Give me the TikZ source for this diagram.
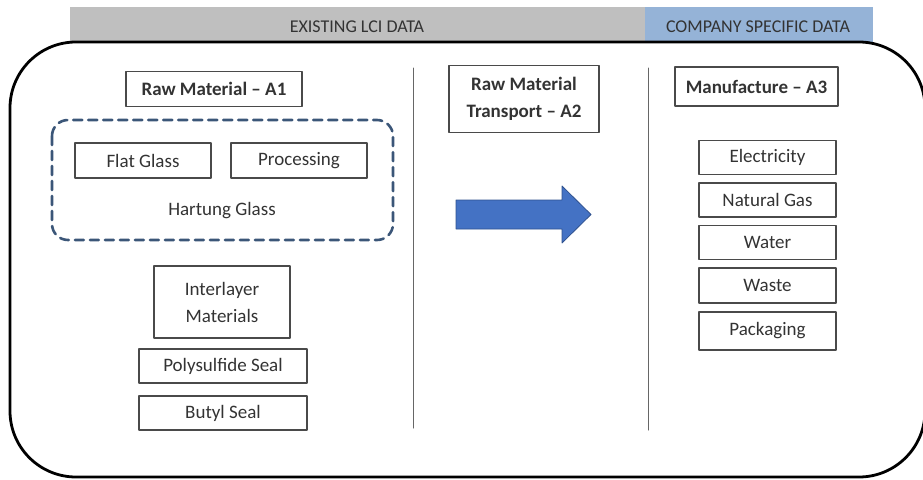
\documentclass[tikz,border=0pt]{standalone}
\usepackage{fontspec}
\setmainfont{Carlito}
\usetikzlibrary{calc}
\definecolor{lcigray}{HTML}{BFBFBF}
\definecolor{companyblue}{HTML}{95B3D7}
\definecolor{groupcolor}{HTML}{3B5678}
\definecolor{arrowfill}{HTML}{4472C4}
\definecolor{arrowedge}{HTML}{2F528F}
\definecolor{boxedge}{HTML}{4A4A4A}
\definecolor{boxtext}{HTML}{333333}

\begin{document}
\begin{tikzpicture}[x=1pt,y=-1pt,line cap=round,line join=round,
  stage/.style={draw=boxedge,line width=1.4pt,inner sep=0pt,text=boxtext,align=center,
    font=\fontsize{19}{27}\selectfont\bfseries},
  item/.style={draw=boxedge,line width=1.4pt,inner sep=0pt,text=boxtext,align=center,
    font=\fontsize{19}{27}\selectfont}]
  \clip (0,0) rectangle (923,479);
  % data source bars
  \fill[lcigray] (70,7) rectangle (645,42);
  \fill[companyblue] (645,7) rectangle (873,42);
  \node[text=boxtext,font=\fontsize{18}{20}\selectfont] (lcihead) at (357,27) {EXISTING LCI DATA};
  \node[text=boxtext,font=\fontsize{18}{20}\selectfont] (companyhead) at (758,27) {COMPANY SPECIFIC DATA};
  % outer frame
  \draw[black,line width=2.8pt,rounded corners=66] (10,42) rectangle (925,477);
  % dividers
  \draw[gray!80!black,line width=1pt] (413,68)--(413,428);
  \draw[gray!80!black,line width=1pt] (648,68)--(648,430);
  % stages
  \node[stage,minimum width=176,minimum height=35] (rawA1) at (214,89) {Raw Material -- A1};
  \node[stage,minimum width=150,minimum height=67] (transA2) at (524,99) {Raw Material\\Transport -- A2};
  \node[stage,minimum width=163,minimum height=39] (manuA3) at (756.5,86.5) {Manufacture -- A3};
  % hartung glass group
  \draw[groupcolor,line width=2.6pt,dash pattern=on 9pt off 6pt,rounded corners=16] (52,120) rectangle (393,240);
  \node[item,minimum width=136,minimum height=35] (flatglass) at (143,160.5) {Flat Glass};
  \node[item,minimum width=136,minimum height=35] (processing) at (299,160.5) {Processing};
  \node[text=boxtext,font=\fontsize{19}{22}\selectfont] (hartung) at (222,211) {Hartung Glass};
  % other raw materials
  \node[item,minimum width=136,minimum height=72] (interlayer) at (222,302) {Interlayer\\Materials};
  \node[item,minimum width=168,minimum height=34] (polysulfide) at (223,366) {Polysulfide Seal};
  \node[item,minimum width=168,minimum height=34] (butyl) at (223,413) {Butyl Seal};
  % transport arrow
  \filldraw[fill=arrowfill,draw=arrowedge,line width=0.8pt]
    (456,200)--(562,200)--(562,186)--(591,214.5)--(562,243)--(562,229)--(456,229)--cycle;
  % manufacture inputs
  \foreach \name/\y/\h/\txt in {elec/157.5/34/Electricity,gas/200/34/Natural Gas,water/242.5/34/Water,waste/285.5/35/Waste,pack/331/38/Packaging}{
    \node[item,minimum width=137,minimum height=\h] (\name) at (767.5,\y) {\txt};
  }
\end{tikzpicture}
\end{document}
